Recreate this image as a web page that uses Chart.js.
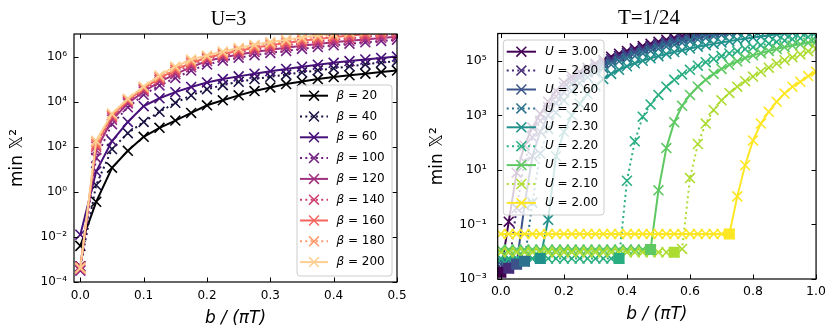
<!DOCTYPE html>
<html><head><meta charset="utf-8">
<script src="https://cdn.jsdelivr.net/npm/chart.js@4.4.1/dist/chart.umd.min.js"></script>
<style>
html,body{margin:0;padding:0;background:#fff;overflow:hidden;width:831px;height:332px;}
canvas{position:absolute;top:0;}
#c1{left:0;width:415px;height:332px;}
#c2{left:415px;width:416px;height:332px;}
</style></head><body>
<canvas id="c1" width="415" height="332"></canvas>
<canvas id="c2" width="416" height="332"></canvas>
<script>
// ---------------- LEFT PANEL (U=3) ----------------
const leftX = [0, 0.025, 0.05, 0.075, 0.1, 0.125, 0.15, 0.175, 0.2, 0.225, 0.25,
  0.275, 0.3, 0.325, 0.35, 0.375, 0.4, 0.425, 0.45, 0.475, 0.5];
const betaLabels = ['20', '40', '60', '100', '120', '140', '160', '180', '200'];
const beta20 = [4.0e-3, 3.6e-1, 1.17e1, 6.6e1, 2.75e2, 6.9e2, 1.45e3, 3.16e3, 6.9e3, 1.15e4, 1.9e4,
  2.95e4, 4.27e4, 6.0e4, 7.9e4, 1.0e5, 1.23e5, 1.48e5, 1.74e5, 2.04e5, 2.4e5];
const beta40 = [5.0e-4, 2.0, 7.9e1, 4.0e2, 1.26e3, 3.55e3, 8.9e3, 1.9e4, 3.55e4, 5.4e4, 7.6e4,
  1.0e5, 1.26e5, 1.58e5, 2.0e5, 2.45e5, 3.0e5, 3.7e5, 4.5e5, 5.4e5, 6.3e5];
const beta60 = [1.26e-2, 7.9, 1.78e2, 1.26e3, 6.3e3, 1.41e4, 2.63e4, 4.47e4, 7.1e4, 1.0e5, 1.32e5,
  1.74e5, 2.24e5, 2.82e5, 3.55e5, 4.37e5, 5.25e5, 6.3e5, 7.4e5, 8.7e5, 1.0e6];
const beta100 = [3.2e-4, 3.2e1, 1.0e3, 5.6e3, 2.0e4, 5.25e4, 1.12e5, 2.4e5, 4.47e5, 6.6e5, 8.9e5,
  1.15e6, 1.45e6, 1.78e6, 2.19e6, 2.63e6, 3.16e6, 3.7e6, 4.27e6, 4.9e6, 5.6e6];
const beta120 = [5.0e-4, 7.1e1, 1.58e3, 8.3e3, 2.82e4, 7.6e4, 1.66e5, 3.39e5, 6.3e5, 9.1e5, 1.23e6,
  1.58e6, 2.0e6, 2.45e6, 3.02e6, 3.63e6, 4.27e6, 5.0e6, 5.75e6, 6.6e6, 7.6e6];
const beta140 = [3.55e-4, 1.0e2, 2.0e3, 1.0e4, 3.39e4, 9.3e4, 2.09e5, 4.27e5, 7.6e5, 1.1e6, 1.51e6,
  2.0e6, 2.57e6, 3.16e6, 3.89e6, 4.68e6, 5.5e6, 6.46e6, 7.41e6, 8.5e6, 9.55e6];
const beta160 = [4.5e-4, 1.26e2, 2.4e3, 1.15e4, 3.89e4, 1.1e5, 2.57e5, 5.25e5, 8.9e5, 1.29e6, 1.82e6,
  2.45e6, 3.16e6, 3.98e6, 5.0e6, 6.03e6, 7.24e6, 8.5e6, 9.77e6, 1.12e7, 1.26e7];
const beta180 = [4.0e-4, 1.58e2, 2.69e3, 1.26e4, 4.27e4, 1.26e5, 3.09e5, 6.3e5, 1.0e6, 1.48e6, 2.14e6,
  2.88e6, 3.8e6, 4.9e6, 6.17e6, 7.6e6, 9.1e6, 1.07e7, 1.26e7, 1.41e7, 1.58e7];
const beta200 = [4.2e-4, 1.86e2, 2.95e3, 1.35e4, 4.68e4, 1.45e5, 3.63e5, 7.41e5, 1.12e6, 1.66e6, 2.4e6,
  3.31e6, 4.37e6, 5.62e6, 7.08e6, 8.7e6, 1.05e7, 1.26e7, 1.48e7, 1.74e7, 2.0e7];
const leftXTicks = [0, 0.1, 0.2, 0.3, 0.4, 0.5];
const leftXTickLabels = ['0.0', '0.1', '0.2', '0.3', '0.4', '0.5'];
const leftYTicks = [1e-4, 1e-2, 1, 1e2, 1e4, 1e6];
const leftYTickLabels = ['10\u207B\u2074', '10\u207B\u00B2', '10\u2070', '10\u00B2', '10\u2074', '10\u2076'];

// ---------------- RIGHT PANEL (T=1/24) ----------------
const rightX = [0, 0.025, 0.05, 0.075, 0.1, 0.125, 0.15, 0.175, 0.2, 0.225, 0.25,
  0.275, 0.3, 0.325, 0.35, 0.375, 0.4, 0.425, 0.45, 0.475, 0.5,
  0.525, 0.55, 0.575, 0.6, 0.625, 0.65, 0.675, 0.7, 0.725, 0.75,
  0.775, 0.8, 0.825, 0.85, 0.875, 0.9, 0.925, 0.95, 0.975, 1.0];
const uLabels = ['3.00', '2.80', '2.60', '2.40', '2.30', '2.20', '2.15', '2.10', '2.00'];
const u300 = [1.78e-3, 1.26e-1, 7.9, 7.9e1, 3.55e2, 1.12e3, 3.16e3, 7.9e3, 1.58e4, 2.63e4, 3.98e4,
  5.6e4, 7.9e4, 1.07e5, 1.41e5, 1.82e5, 2.29e5, 2.82e5, 3.47e5, 4.17e5, 5.0e5,
  5.9e5, 6.9e5, 8.1e5, 9.3e5, 1.07e6, 1.2e6, 1.35e6, 1.51e6, 1.66e6, 1.82e6,
  2.0e6, 2.19e6, 2.34e6, 2.51e6, 2.69e6, 2.88e6, 3.09e6, 3.31e6, 3.55e6, 3.72e6];
const u280 = [2.5e-3, 2.5e-3, 4.0e-1, 2.0e1, 1.58e2, 6.3e2, 2.0e3, 5.0e3, 1.12e4, 2.0e4, 3.16e4,
  4.68e4, 6.6e4, 8.9e4, 1.17e5, 1.51e5, 1.91e5, 2.4e5, 2.95e5, 3.55e5, 4.27e5,
  5.0e5, 5.9e5, 6.9e5, 7.9e5, 9.1e5, 1.05e6, 1.17e6, 1.32e6, 1.45e6, 1.58e6,
  1.74e6, 1.91e6, 2.09e6, 2.24e6, 2.4e6, 2.57e6, 2.75e6, 2.95e6, 3.16e6, 3.31e6];
const u260 = [3.5e-3, 3.5e-3, 3.5e-3, 5.0e-1, 3.16e1, 2.5e2, 1.0e3, 2.82e3, 7.1e3, 1.41e4, 2.4e4,
  3.72e4, 5.25e4, 7.24e4, 9.55e4, 1.26e5, 1.58e5, 2.0e5, 2.45e5, 2.95e5, 3.55e5,
  4.27e5, 5.0e5, 5.9e5, 6.76e5, 7.76e5, 8.9e5, 1.0e6, 1.12e6, 1.26e6, 1.38e6,
  1.51e6, 1.66e6, 1.82e6, 2.0e6, 2.14e6, 2.29e6, 2.45e6, 2.63e6, 2.82e6, 2.95e6];
const u240 = [4.5e-3, 4.5e-3, 4.5e-3, 4.5e-3, 6.3e-1, 4.0e1, 3.16e2, 1.26e3, 3.55e3, 7.9e3, 1.51e4,
  2.51e4, 3.8e4, 5.37e4, 7.24e4, 9.55e4, 1.2e5, 1.51e5, 1.86e5, 2.29e5, 2.75e5,
  3.31e5, 3.89e5, 4.57e5, 5.25e5, 6.03e5, 6.9e5, 7.9e5, 8.9e5, 1.0e6, 1.1e6,
  1.2e6, 1.32e6, 1.45e6, 1.58e6, 1.7e6, 1.82e6, 1.95e6, 2.09e6, 2.24e6, 2.34e6];
const u230 = [5.6e-3, 5.6e-3, 5.6e-3, 5.6e-3, 5.6e-3, 5.6e-3, 1.48e-1, 3.16e1, 2.5e2, 1.0e3, 2.69e3,
  6.0e3, 1.2e4, 2.14e4, 3.31e4, 4.68e4, 6.3e4, 8.1e4, 1.0e5, 1.23e5, 1.48e5,
  1.78e5, 2.09e5, 2.45e5, 2.82e5, 3.24e5, 3.72e5, 4.17e5, 4.68e5, 5.25e5, 5.9e5,
  6.46e5, 7.08e5, 7.76e5, 8.5e5, 9.3e5, 1.0e6, 1.07e6, 1.15e6, 1.23e6, 1.32e6];
const u220 = [5.6e-3, 5.6e-3, 5.6e-3, 5.6e-3, 5.6e-3, 5.6e-3, 5.6e-3, 5.6e-3, 5.6e-3, 5.6e-3, 5.6e-3,
  5.6e-3, 5.6e-3, 5.6e-3, 5.6e-3, 5.6e-3, 4.0, 1.12e2, 8.9e2, 2.51e3, 5.6e3,
  1.12e4, 2.0e4, 3.16e4, 4.68e4, 6.6e4, 8.9e4, 1.17e5, 1.48e5, 1.86e5, 2.24e5,
  2.69e5, 3.16e5, 3.72e5, 4.27e5, 4.9e5, 5.5e5, 6.17e5, 6.76e5, 7.41e5, 7.94e5];
const u215 = [1.2e-2, 1.2e-2, 1.2e-2, 1.2e-2, 1.2e-2, 1.2e-2, 1.2e-2, 1.2e-2, 1.2e-2, 1.2e-2, 1.2e-2,
  1.2e-2, 1.2e-2, 1.2e-2, 1.2e-2, 1.2e-2, 1.2e-2, 1.2e-2, 1.2e-2, 1.2e-2, 1.78,
  6.3e1, 5.6e2, 2.24e3, 5.6e3, 1.12e4, 2.0e4, 3.31e4, 5.0e4, 7.1e4, 9.55e4,
  1.26e5, 1.58e5, 1.91e5, 2.29e5, 2.69e5, 3.16e5, 3.63e5, 4.07e5, 4.57e5, 5.0e5];
const u210 = [9.5e-3, 9.5e-3, 9.5e-3, 9.5e-3, 9.5e-3, 9.5e-3, 9.5e-3, 9.5e-3, 9.5e-3, 9.5e-3, 9.5e-3,
  9.5e-3, 9.5e-3, 9.5e-3, 9.5e-3, 9.5e-3, 9.5e-3, 9.5e-3, 9.5e-3, 9.5e-3, 9.5e-3,
  9.5e-3, 9.5e-3, 1.26e-2, 5.0, 8.9e1, 5.0e2, 1.58e3, 3.55e3, 6.6e3, 1.12e4,
  1.78e4, 2.63e4, 3.98e4, 5.6e4, 7.9e4, 1.05e5, 1.35e5, 1.74e5, 2.24e5, 2.82e5];
const u200 = [4.5e-2, 4.5e-2, 4.5e-2, 4.5e-2, 4.5e-2, 4.5e-2, 4.5e-2, 4.5e-2, 4.5e-2, 4.5e-2, 4.5e-2,
  4.5e-2, 4.5e-2, 4.5e-2, 4.5e-2, 4.5e-2, 4.5e-2, 4.5e-2, 4.5e-2, 4.5e-2, 4.5e-2,
  4.5e-2, 4.5e-2, 4.5e-2, 4.5e-2, 4.5e-2, 4.5e-2, 4.5e-2, 4.5e-2, 4.5e-2, 1.07,
  1.48e1, 1.2e2, 5.0e2, 1.35e3, 3.16e3, 6.3e3, 1.12e4, 1.7e4, 2.75e4, 3.98e4];
// end-of-plateau square markers, one per U (same order as uLabels)
const squareX = [0, 0.025, 0.05, 0.075, 0.125, 0.375, 0.475, 0.55, 0.725];
const squareY = [1.78e-3, 2.5e-3, 3.5e-3, 4.5e-3, 5.6e-3, 5.6e-3, 1.2e-2, 9.5e-3, 4.5e-2];
const rightXTicks = [0, 0.2, 0.4, 0.6, 0.8, 1.0];
const rightXTickLabels = ['0.0', '0.2', '0.4', '0.6', '0.8', '1.0'];
const rightYTicks = [1e-3, 1e-1, 1e1, 1e3, 1e5];
const rightYTickLabels = ['10\u207B\u00B3', '10\u207B\u00B9', '10\u00B9', '10\u00B3', '10\u2075'];

// ---------------- styling ----------------
const leftColors = ['#000004', '#1a1042', '#471078', '#721f81', '#a1307e', '#cf4070', '#f3655c', '#fe9a6a', '#fecf92'];
const rightColors = ['#440154', '#472c7a', '#3b528b', '#2c728e', '#21918c', '#28ae80', '#5ec962', '#addc30', '#fde725'];
const dottedPattern = [false, true, false, true, false, true, false, true, false];

Chart.defaults.font.family = '"DejaVu Sans", sans-serif';
Chart.defaults.color = '#000';

const frameTicks = {
  id: 'frameTicks',
  afterDatasetsDraw(chart) {
    const {ctx, chartArea: a, scales: {x, y}} = chart;
    ctx.save();
    ctx.strokeStyle = '#000';
    ctx.lineWidth = 1;
    const L = 4.5;
    ctx.beginPath();
    x.ticks.forEach(t => {
      const px = Math.round(x.getPixelForValue(t.value)) + 0.5;
      ctx.moveTo(px, a.bottom); ctx.lineTo(px, a.bottom - L);
      ctx.moveTo(px, a.top); ctx.lineTo(px, a.top + L);
    });
    y.ticks.forEach(t => {
      const py = Math.round(y.getPixelForValue(t.value)) + 0.5;
      ctx.moveTo(a.left, py); ctx.lineTo(a.left + L, py);
      ctx.moveTo(a.right, py); ctx.lineTo(a.right - L, py);
    });
    ctx.stroke();
    ctx.lineWidth = 1.2;
    ctx.strokeRect(a.left, a.top, a.right - a.left, a.bottom - a.top);
    ctx.restore();
  }
};

const titleShift = {
  id: 'titleShift',
  afterLayout(chart, args, opts) {
    if (chart.titleBlock && opts && opts.dx) {
      chart.titleBlock.left += opts.dx;
      chart.titleBlock.right += opts.dx;
    }
  }
};

const insetLegend = {
  id: 'insetLegend',
  afterDraw(chart, args, o) {
    if (!o || !o.labels) return;
    const ctx = chart.ctx;
    ctx.save();
    const [bx, by, bw, bh] = o.box;
    const r = 3;
    ctx.beginPath();
    ctx.moveTo(bx + r, by);
    ctx.lineTo(bx + bw - r, by); ctx.arcTo(bx + bw, by, bx + bw, by + r, r);
    ctx.lineTo(bx + bw, by + bh - r); ctx.arcTo(bx + bw, by + bh, bx + bw - r, by + bh, r);
    ctx.lineTo(bx + r, by + bh); ctx.arcTo(bx, by + bh, bx, by + bh - r, r);
    ctx.lineTo(bx, by + r); ctx.arcTo(bx, by, bx + r, by, r);
    ctx.closePath();
    ctx.fillStyle = 'rgba(255,255,255,0.8)';
    ctx.fill();
    ctx.strokeStyle = '#cccccc';
    ctx.lineWidth = 1;
    ctx.stroke();
    o.labels.forEach((lab, i) => {
      const cy = o.y0 + i * o.dy;
      const c = o.colors[i];
      ctx.strokeStyle = c;
      ctx.lineWidth = 2;
      ctx.setLineDash(o.dotted[i] ? [2, 3.3] : []);
      ctx.beginPath(); ctx.moveTo(o.lx0, cy); ctx.lineTo(o.lx1, cy); ctx.stroke();
      ctx.setLineDash([]);
      const mx = (o.lx0 + o.lx1) / 2, d = 7 * Math.SQRT1_2;
      ctx.lineWidth = 1.5;
      ctx.beginPath();
      ctx.moveTo(mx - d, cy - d); ctx.lineTo(mx + d, cy + d);
      ctx.moveTo(mx + d, cy - d); ctx.lineTo(mx - d, cy + d);
      ctx.stroke();
      ctx.fillStyle = '#000';
      ctx.textBaseline = 'middle';
      ctx.textAlign = 'left';
      ctx.font = 'italic ' + o.fontSize + 'px "DejaVu Sans"';
      ctx.fillText(o.sym, o.tx, cy);
      const w = ctx.measureText(o.sym).width;
      ctx.font = o.fontSize + 'px "DejaVu Sans"';
      ctx.fillText(' = ' + lab, o.tx + w, cy);
    });
    ctx.restore();
  }
};

function buildChart(id, o) {
  const datasets = o.series.map((s, i) => ({
    label: o.names[i],
    data: o.x.map((xv, j) => ({x: xv, y: s[j]})),
    borderColor: o.colors[i],
    backgroundColor: o.colors[i],
    borderWidth: 2,
    borderDash: o.dotted[i] ? [2, 3.3] : [],
    pointStyle: 'crossRot',
    pointRadius: 7,
    pointBorderWidth: 1.6,
    pointBorderColor: o.colors[i],
    pointBackgroundColor: o.colors[i],
    tension: 0,
    fill: false,
    clip: 0,
    order: o.series.length - i + 1
  }));
  if (o.squares) {
    datasets.push({
      label: 'plateau end',
      data: o.squares.x.map((xv, j) => ({x: xv, y: o.squares.y[j]})),
      showLine: false,
      pointStyle: 'rect',
      pointRadius: 7.8,
      pointBorderWidth: 0,
      pointBackgroundColor: o.colors,
      pointBorderColor: o.colors,
      borderColor: 'rgba(0,0,0,0)',
      clip: 0,
      order: 0
    });
  }
  return new Chart(document.getElementById(id), {
    type: 'line',
    data: {datasets},
    plugins: [frameTicks, titleShift, insetLegend],
    options: {
      responsive: false,
      animation: false,
      devicePixelRatio: 1,
      events: [],
      layout: {padding: {left: 0, right: o.padRight, top: 0, bottom: 0}},
      plugins: {
        legend: {display: false},
        tooltip: {enabled: false},
        title: {
          display: true, text: o.title, fullSize: false, color: '#000',
          font: {family: '"Liberation Serif", "DejaVu Serif", serif', size: o.titleSize, weight: 'normal'},
          padding: {top: o.titlePadTop, bottom: o.titlePadBottom}
        },
        titleShift: {dx: o.titleDx},
        insetLegend: o.legend
      },
      scales: {
        x: {
          type: 'linear', min: o.xmin, max: o.xmax,
          grid: {display: false, drawTicks: false},
          border: {display: false},
          afterBuildTicks: (s) => { s.ticks = o.xTicks.map(v => ({value: v})); },
          afterFit: (s) => { s.height = o.xAxisH; },
          ticks: {
            font: {size: o.tickSize}, padding: o.xTickPad, maxRotation: 0, autoSkip: false,
            callback: (v, i) => o.xTickLabels[i]
          },
          title: {
            display: true, text: 'b / (\u03C0T)',
            font: {size: 17, style: 'italic'},
            padding: {top: 0, bottom: o.xTitlePadBottom}
          }
        },
        y: {
          type: 'logarithmic', min: o.ymin, max: o.ymax,
          grid: {display: false, drawTicks: false},
          border: {display: false},
          afterBuildTicks: (s) => { s.ticks = o.yTicks.map(v => ({value: v})); },
          afterFit: (s) => { s.width = o.yAxisW; },
          ticks: {
            font: {size: o.tickSize}, padding: o.yTickPad, autoSkip: false,
            callback: (v, i) => o.yTickLabels[i]
          },
          title: {
            display: true, text: 'min \uD835\uDD4F\u00B2',
            font: {size: 17},
            padding: {top: o.yTitlePadTop, bottom: 0}
          }
        }
      }
    }
  });
}

buildChart('c1', {
  x: leftX,
  series: [beta20, beta40, beta60, beta100, beta120, beta140, beta160, beta180, beta200],
  names: betaLabels.map(b => '\u03B2 = ' + b),
  colors: leftColors, dotted: dottedPattern,
  title: 'U=3', titleSize: 20, titlePadTop: 8, titlePadBottom: 2, titleDx: -7,
  padRight: 18,
  xmin: -0.01, xmax: 0.5, ymin: 1e-4, ymax: 1e7,
  xTicks: leftXTicks, xTickLabels: leftXTickLabels,
  yTicks: leftYTicks, yTickLabels: leftYTickLabels,
  xAxisH: 50, yAxisW: 74, tickSize: 12, xTickPad: 7, yTickPad: 7,
  xTitlePadBottom: 3, yTitlePadTop: 7,
  legend: {
    box: [297, 85, 95, 191], y0: 95.7, dy: 20.8, lx0: 300, lx1: 328, tx: 336.5,
    sym: '\u03B2', labels: betaLabels, colors: leftColors, dotted: dottedPattern, fontSize: 12
  }
});

buildChart('c2', {
  x: rightX,
  series: [u300, u280, u260, u240, u230, u220, u215, u210, u200],
  names: uLabels.map(u => 'U = ' + u),
  colors: rightColors, dotted: dottedPattern,
  squares: {x: squareX, y: squareY},
  title: 'T=1/24', titleSize: 21, titlePadTop: 6, titlePadBottom: 2.3, titleDx: -8,
  padRight: 11,
  xmin: -0.01, xmax: 1.0, ymin: 1e-3, ymax: 1e6,
  xTicks: rightXTicks, xTickLabels: rightXTickLabels,
  yTicks: rightYTicks, yTickLabels: rightYTickLabels,
  xAxisH: 53, yAxisW: 82.7, tickSize: 12.5, xTickPad: 5, yTickPad: 11,
  xTitlePadBottom: 7, yTitlePadTop: 12,
  legend: {
    box: [88.3, 40, 100.7, 175], y0: 51.7, dy: 18.9, lx0: 91.7, lx1: 121, tx: 130,
    sym: 'U', labels: uLabels, colors: rightColors, dotted: dottedPattern, fontSize: 12
  }
});
</script>
</body></html>
